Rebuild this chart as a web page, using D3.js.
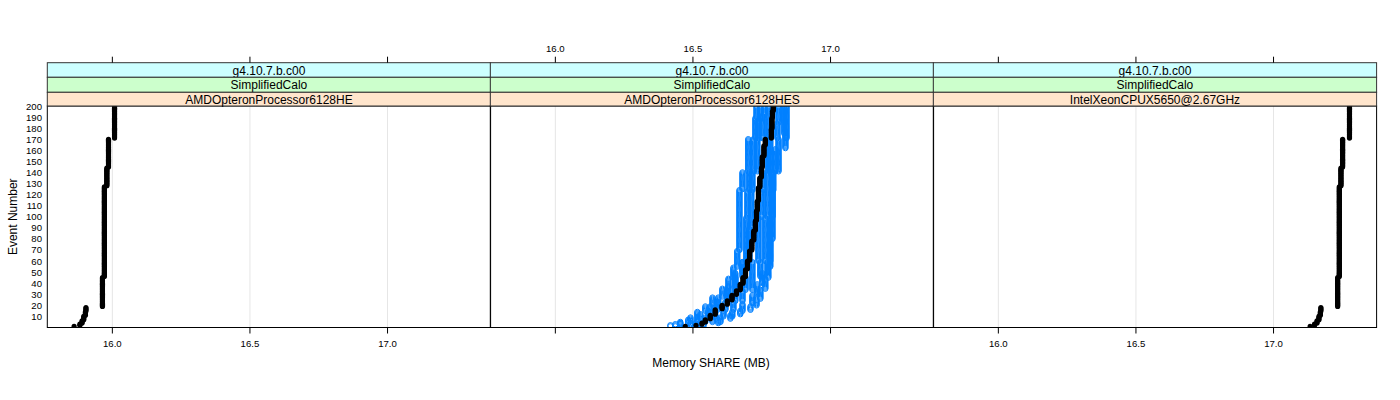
<!DOCTYPE html>
<html>
<head>
<meta charset="utf-8">
<script src="https://cdn.jsdelivr.net/npm/d3@7"></script>
<style>
  html, body { margin: 0; padding: 0; background: #fff; }
  svg { display: block; font-family: "Liberation Sans", Arial, Helvetica, sans-serif; }
</style>
</head>
<body>
<svg id="chart" width="1400" height="400"></svg>
<script>
// ---------------- DATA ----------------
const panelNames = ["AMDOpteronProcessor6128HE", "AMDOpteronProcessor6128HES", "IntelXeonCPUX5650@2.67GHz"];
const stripVersion = "g4.10.7.b.c00";
const stripTest = "SimplifiedCalo";
const xTicks = [16.0, 16.5, 17.0];
const xTickLabels = ["16.0", "16.5", "17.0"];
const yTicks = [10, 20, 30, 40, 50, 60, 70, 80, 90, 100, 110, 120, 130, 140, 150, 160, 170, 180, 190, 200];
const eventCount = 200;

// Series as runs: [first event of run, memory SHARE (MB)]
const refLeft = [[1, 15.861], [2, 15.882], [4, 15.890], [7, 15.896], [11, 15.902], [15, 15.904],
  [19, 15.964], [46, 15.971], [128, 15.980], [145, 15.986], [171, 16.008]];
const refRight = [[1, 17.133], [2, 17.149], [4, 17.158], [7, 17.165], [11, 17.170], [15, 17.172],
  [19, 17.233], [46, 17.239], [128, 17.245], [145, 17.251], [171, 17.276]];
const refMid = [[1, 16.472], [2, 16.511], [3, 16.533], [5, 16.545], [8, 16.563], [12, 16.581], [17, 16.606],
  [21, 16.625], [25, 16.642], [30, 16.658], [34, 16.672], [40, 16.682], [46, 16.691], [53, 16.698],
  [61, 16.706], [70, 16.714], [79, 16.721], [88, 16.727], [97, 16.731], [106, 16.734], [115, 16.738],
  [127, 16.743], [136, 16.749], [145, 16.752], [155, 16.758], [165, 16.763], [171, 16.785],
  [180, 16.787], [190, 16.789], [196, 16.792]];
const runsB1 = [[1, 16.418], [3, 16.454], [6, 16.491], [10, 16.516], [15, 16.545], [20, 16.571], [28, 16.607],
  [36, 16.629], [45, 16.647], [55, 16.661], [70, 16.669], [125, 16.680], [141, 16.701], [171, 16.727], [190, 16.731]];
const runsB2 = [[1, 16.436], [4, 16.483], [8, 16.527], [13, 16.563], [20, 16.592], [28, 16.629], [38, 16.654],
  [50, 16.680], [60, 16.694], [100, 16.698], [124, 16.705], [141, 16.720], [171, 16.738], [188, 16.745]];
const runsB3 = [[1, 16.454], [5, 16.516], [10, 16.556], [16, 16.589], [24, 16.625], [34, 16.654], [46, 16.680],
  [60, 16.705], [90, 16.712], [124, 16.716], [141, 16.734], [171, 16.752], [192, 16.760]];
const runsB4 = [[1, 16.491], [5, 16.545], [10, 16.581], [16, 16.618], [24, 16.654], [34, 16.691], [46, 16.716],
  [60, 16.738], [100, 16.749], [124, 16.756], [141, 16.774]];
const runsB5 = [[1, 16.509], [5, 16.571], [10, 16.611], [16, 16.647], [24, 16.680], [34, 16.716], [46, 16.745],
  [60, 16.763], [100, 16.771], [141, 16.781], [171, 16.807], [185, 16.811]];
const runsB6 = [[1, 16.527], [5, 16.600], [10, 16.643], [15, 16.680], [22, 16.716], [30, 16.734], [40, 16.752],
  [50, 16.771], [60, 16.781], [100, 16.789], [141, 16.800], [162, 16.836], [175, 16.832]];
const runsB7 = [[1, 16.538], [4, 16.592], [8, 16.636], [12, 16.672], [16, 16.709], [20, 16.731], [26, 16.745],
  [35, 16.763], [45, 16.774], [55, 16.781], [80, 16.789], [124, 16.792], [141, 16.811], [171, 16.840]];

const panelRef = [refLeft, refMid, refRight];
const panelRuns = [[], [runsB1, runsB2, runsB3, runsB4, runsB5, runsB6, runsB7], []];

// ---------------- LAYOUT ----------------
const svg = d3.select("#chart");
svg.append("rect").attr("width", 1400).attr("height", 400).attr("fill", "#fff");

const panelX = [47.3, 490.3, 933.3];
const panelW = 443.3;
const plotTop = 106, plotBottom = 327.5;
const stripTops = [62.7, 77.3, 92.3];
const stripBottoms = [77.3, 92.3, 106];
const stripColors = ["#ccffff", "#ccffcc", "#ffe5cc"];

const y = d3.scaleLinear().domain([0, 200]).range([plotBottom, plotTop]);

function expand(runs) {
  const out = [];
  for (let e = 1; e <= eventCount; e++) {
    let v = null;
    for (const [s, val] of runs) if (s <= e) v = val;
    out.push({ e, v });
  }
  return out;
}

panelNames.forEach((name, i) => {
  const x0 = panelX[i];
  const x = d3.scaleLinear().domain([15.7636, 17.3745]).range([x0, x0 + panelW]);
  const g = svg.append("g");

  // grid lines
  g.selectAll(".grid").data(xTicks).enter().append("line")
    .attr("x1", d => x(d)).attr("x2", d => x(d))
    .attr("y1", plotTop).attr("y2", plotBottom)
    .attr("stroke", "#e6e6e6").attr("stroke-width", 1);

  // clip
  const clipId = "clip" + i;
  svg.append("clipPath").attr("id", clipId).append("rect")
    .attr("x", x0).attr("y", plotTop).attr("width", panelW).attr("height", plotBottom - plotTop);
  const pg = g.append("g").attr("clip-path", `url(#${clipId})`);

  // blue series (open circles)
  panelRuns[i].forEach(runs => {
    pg.append("g").selectAll("circle").data(expand(runs)).enter().append("circle")
      .attr("cx", d => x(d.v)).attr("cy", d => y(d.e)).attr("r", 2.7)
      .attr("fill", "none").attr("stroke", "#0080ff").attr("stroke-width", 1);
  });
  // reference series (filled black)
  pg.append("g").selectAll("circle").data(expand(panelRef[i])).enter().append("circle")
    .attr("cx", d => x(d.v)).attr("cy", d => y(d.e)).attr("r", 2.6)
    .attr("fill", "#000");

  // panel border
  g.append("rect").attr("x", x0).attr("y", plotTop).attr("width", panelW).attr("height", plotBottom - plotTop)
    .attr("fill", "none").attr("stroke", "#000").attr("stroke-width", 1);

  // strips
  const stripTexts = [stripVersion, stripTest, name];
  stripTexts.forEach((t, k) => {
    g.append("rect").attr("x", x0).attr("y", stripTops[k]).attr("width", panelW)
      .attr("height", stripBottoms[k] - stripTops[k])
      .attr("fill", stripColors[k]).attr("stroke", "#333").attr("stroke-width", 1);
    g.append("text").attr("x", x0 + panelW / 2).attr("y", (stripTops[k] + stripBottoms[k]) / 2 + 0.5)
      .attr("text-anchor", "middle").attr("dominant-baseline", "central")
      .attr("font-size", 12).attr("fill", "#000").text(t);
  });

  // top axis ticks
  g.selectAll(".ttick").data(xTicks).enter().append("line")
    .attr("x1", d => x(d)).attr("x2", d => x(d)).attr("y1", stripTops[0] - 6).attr("y2", stripTops[0])
    .attr("stroke", "#000");
  // bottom axis ticks
  g.selectAll(".btick").data(xTicks).enter().append("line")
    .attr("x1", d => x(d)).attr("x2", d => x(d)).attr("y1", plotBottom).attr("y2", plotBottom + 6)
    .attr("stroke", "#000");

  if (i === 1) {
    g.selectAll(".tlab").data(xTicks).enter().append("text")
      .attr("x", d => x(d)).attr("y", 48).attr("text-anchor", "middle").attr("dominant-baseline", "central")
      .attr("font-size", 9.6).text((d, k) => xTickLabels[k]);
  } else {
    g.selectAll(".blab").data(xTicks).enter().append("text")
      .attr("x", d => x(d)).attr("y", 343).attr("text-anchor", "middle").attr("dominant-baseline", "central")
      .attr("font-size", 9.6).text((d, k) => xTickLabels[k]);
  }
});

// y tick labels
svg.append("g").selectAll("text").data(yTicks).enter().append("text")
  .attr("x", 42).attr("y", d => y(d)).attr("text-anchor", "end").attr("dominant-baseline", "central")
  .attr("font-size", 9.6).text(d => d);

// axis titles
svg.append("text").attr("transform", `translate(13,${(plotTop + plotBottom) / 2}) rotate(-90)`)
  .attr("text-anchor", "middle").attr("dominant-baseline", "central").attr("font-size", 12).text("Event Number");
svg.append("text").attr("x", 711).attr("y", 363).attr("text-anchor", "middle").attr("dominant-baseline", "central")
  .attr("font-size", 12).text("Memory SHARE (MB)");
</script>
</body>
</html>
